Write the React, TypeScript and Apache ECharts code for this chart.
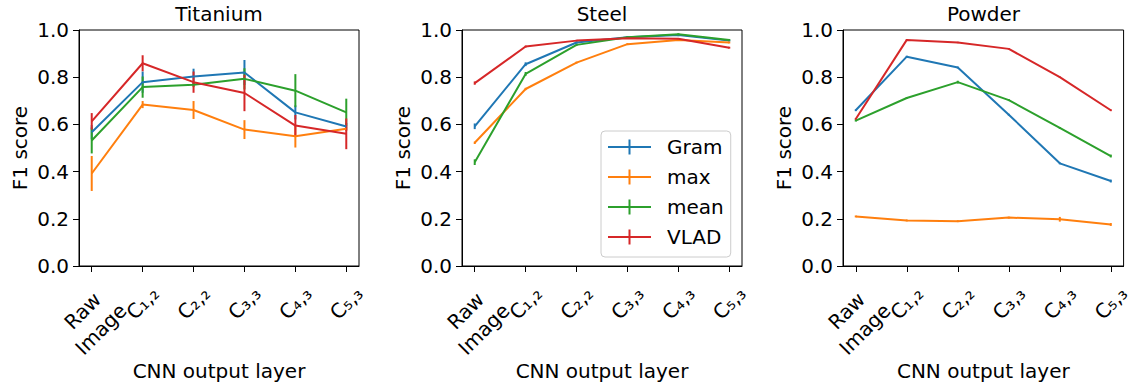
import React, { useEffect, useRef } from "react";
import * as echarts from "echarts";

const PANELS = ["Titanium", "Steel", "Powder"];
const METHODS = ["Gram", "max", "mean", "VLAD"];
const COLORS = ["#1f77b4", "#ff7f0e", "#2ca02c", "#d62728"];
const X_POS = [0, 1, 2, 3, 4, 5];
const X_LABELS = ["Raw\nImage", "C₁,₂", "C₂,₂", "C₃,₃", "C₄,₃", "C₅,₃"];
const Y_TICKS = [0, 0.2, 0.4, 0.6, 0.8, 1.0];

// Titanium
const tiGram = [0.567, 0.779, 0.803, 0.82, 0.651, 0.591];
const tiGramErr = [0.03, 0.045, 0.033, 0.053, 0.03, 0.015];
const tiMax = [0.392, 0.684, 0.661, 0.578, 0.55, 0.582];
const tiMaxErr = [0.074, 0.015, 0.038, 0.04, 0.048, 0.01];
const tiMean = [0.532, 0.758, 0.768, 0.793, 0.743, 0.651];
const tiMeanErr = [0.055, 0.045, 0.01, 0.045, 0.07, 0.058];
const tiVlad = [0.613, 0.859, 0.779, 0.733, 0.595, 0.56];
const tiVladErr = [0.035, 0.034, 0.045, 0.077, 0.045, 0.065];

// Steel
const stGram = [0.592, 0.855, 0.947, 0.969, 0.979, 0.955];
const stGramErr = [0.012, 0.008, 0.005, 0.004, 0.005, 0.004];
const stMax = [0.522, 0.75, 0.862, 0.94, 0.958, 0.947];
const stMaxErr = [0.005, 0.005, 0.004, 0.004, 0.004, 0.004];
const stMean = [0.44, 0.814, 0.937, 0.969, 0.982, 0.958];
const stMeanErr = [0.012, 0.008, 0.005, 0.004, 0.004, 0.004];
const stVlad = [0.775, 0.93, 0.955, 0.965, 0.963, 0.925];
const stVladErr = [0.007, 0.004, 0.003, 0.003, 0.003, 0.004];

// Powder
const pwGram = [0.66, 0.887, 0.841, 0.641, 0.435, 0.36];
const pwGramErr = [0.004, 0.004, 0.004, 0.004, 0.004, 0.006];
const pwMax = [0.21, 0.193, 0.19, 0.205, 0.198, 0.176];
const pwMaxErr = [0.004, 0.004, 0.004, 0.004, 0.01, 0.006];
const pwMean = [0.616, 0.712, 0.779, 0.703, 0.585, 0.466];
const pwMeanErr = [0.004, 0.004, 0.006, 0.004, 0.004, 0.006];
const pwVlad = [0.623, 0.958, 0.947, 0.92, 0.8, 0.66];
const pwVladErr = [0.004, 0.003, 0.003, 0.003, 0.003, 0.004];

const VALUES = [
  [tiGram, tiMax, tiMean, tiVlad],
  [stGram, stMax, stMean, stVlad],
  [pwGram, pwMax, pwMean, pwVlad],
];
const ERRORS = [
  [tiGramErr, tiMaxErr, tiMeanErr, tiVladErr],
  [stGramErr, stMaxErr, stMeanErr, stVladErr],
  [pwGramErr, pwMaxErr, pwMeanErr, pwVladErr],
];

const FONT = "DejaVu Sans";
const GRID_LEFT = [79, 462, 843];
const GRID_WIDTH = [280, 280, 281];

function formatX(v: number) {
  const lab = X_LABELS[Math.round(v)];
  return lab || "";
}

// helper axis that only carries rotated tick labels (placed below the plot)
function labelAxis(p: number, values: number[], margin: number) {
  return {
    type: "value",
    gridIndex: p,
    position: "top",
    min: -0.25,
    max: 5.25,
    splitLine: { show: false },
    axisLine: { show: false, onZero: false },
    axisTick: { show: false },
    axisLabel: {
      customValues: values,
      rotate: -45,
      align: "center",
      verticalAlign: "middle",
      margin,
      color: "#000",
      fontSize: 20,
      lineHeight: 26,
      fontFamily: FONT,
      formatter: formatX,
    },
  };
}

export default function App() {
  const ref = useRef<HTMLDivElement>(null);
  useEffect(() => {
    if (!ref.current) return;
    const chart = echarts.init(ref.current, undefined, { renderer: "svg" });

    const grids = PANELS.map((_, p) => ({
      left: GRID_LEFT[p],
      top: 30,
      width: GRID_WIDTH[p],
      height: 237,
      show: true,
      borderColor: "#000",
      borderWidth: 1,
      backgroundColor: "transparent",
    }));

    // main x axes: ticks + axis name
    const xAxes: any[] = PANELS.map((_, p) => ({
      type: "value",
      gridIndex: p,
      position: "bottom",
      min: -0.25,
      max: 5.25,
      splitLine: { show: false },
      axisLine: { show: true, onZero: false, lineStyle: { color: "#000", width: 1 } },
      axisTick: {
        show: true,
        customValues: X_POS,
        length: 6,
        lineStyle: { color: "#000", width: 1 },
      },
      axisLabel: { show: false },
      name: "CNN output layer",
      nameLocation: "middle",
      nameGap: 95,
      nameTextStyle: { fontSize: 20, fontFamily: FONT, color: "#000" },
    }));
    PANELS.forEach((_, p) => xAxes.push(labelAxis(p, X_POS.slice(1), -273)));
    PANELS.forEach((_, p) => xAxes.push(labelAxis(p, [X_POS[0]], -290)));

    const yAxes = PANELS.map((_, p) => ({
      type: "value",
      gridIndex: p,
      min: 0,
      max: 1,
      interval: 0.2,
      splitLine: { show: false },
      axisLine: { show: true, onZero: false, lineStyle: { color: "#000", width: 1 } },
      axisTick: { show: true, length: 6, lineStyle: { color: "#000", width: 1 } },
      axisLabel: {
        color: "#000",
        fontSize: 20,
        fontFamily: FONT,
        margin: 10,
        formatter: (v: number) => v.toFixed(1),
      },
      name: "F1 score",
      nameLocation: "middle",
      nameGap: 49,
      nameTextStyle: { fontSize: 20, fontFamily: FONT, color: "#000" },
    }));

    const series: any[] = [];
    PANELS.forEach((_, p) => {
      METHODS.forEach((m, k) => {
        const vals = VALUES[p][k];
        const errs = ERRORS[p][k];
        series.push({
          type: "line",
          name: m,
          xAxisIndex: p,
          yAxisIndex: p,
          data: X_POS.map((x, i) => [x, vals[i]]),
          showSymbol: false,
          symbol: "none",
          lineStyle: { color: COLORS[k], width: 2 },
          itemStyle: { color: COLORS[k] },
          z: 2,
        });
        series.push({
          type: "custom",
          name: m + " err",
          xAxisIndex: p,
          yAxisIndex: p,
          data: X_POS.map((x, i) => [x, vals[i], errs[i]]),
          renderItem: (params: any, api: any) => {
            const x = api.value(0);
            const y = api.value(1);
            const e = api.value(2);
            const lo = api.coord([x, y - e]);
            const hi = api.coord([x, y + e]);
            return {
              type: "line",
              shape: { x1: lo[0], y1: lo[1], x2: hi[0], y2: hi[1] },
              style: { stroke: COLORS[k], lineWidth: 2 },
            };
          },
          z: 2,
        });
      });
    });

    const option: any = {
      animation: false,
      color: COLORS,
      textStyle: { fontFamily: FONT },
      title: PANELS.map((t, p) => ({
        text: t,
        left: GRID_LEFT[p] + GRID_WIDTH[p] / 2,
        top: 2,
        textAlign: "center",
        padding: 0,
        textStyle: { fontSize: 20, fontWeight: "normal", fontFamily: FONT, color: "#000", lineHeight: 24 },
      })),
      legend: {
        orient: "vertical",
        left: 601,
        top: 131,
        padding: [6, 7, 10, 7],
        itemWidth: 43,
        itemHeight: 15,
        itemGap: 10,
        borderColor: "#cccccc",
        borderWidth: 1,
        borderRadius: 4,
        backgroundColor: "rgba(255,255,255,0.8)",
        data: METHODS.map((m) => ({
          name: m,
          icon: "path://M0,6.5H43V8.5H0Z M20.5,0H22.5V15H20.5Z",
        })),
        textStyle: {
          fontSize: 20,
          fontFamily: FONT,
          color: "#000",
          lineHeight: 20,
          padding: [0, 0, 0, 11],
        },
      },
      grid: grids,
      xAxis: xAxes,
      yAxis: yAxes,
      series,
    };
    chart.setOption(option);
    return () => chart.dispose();
  }, []);
  return (
    <div
      ref={ref}
      style={{ position: "fixed", left: 0, top: 0, width: 1135, height: 386, background: "#fff" }}
    />
  );
}
